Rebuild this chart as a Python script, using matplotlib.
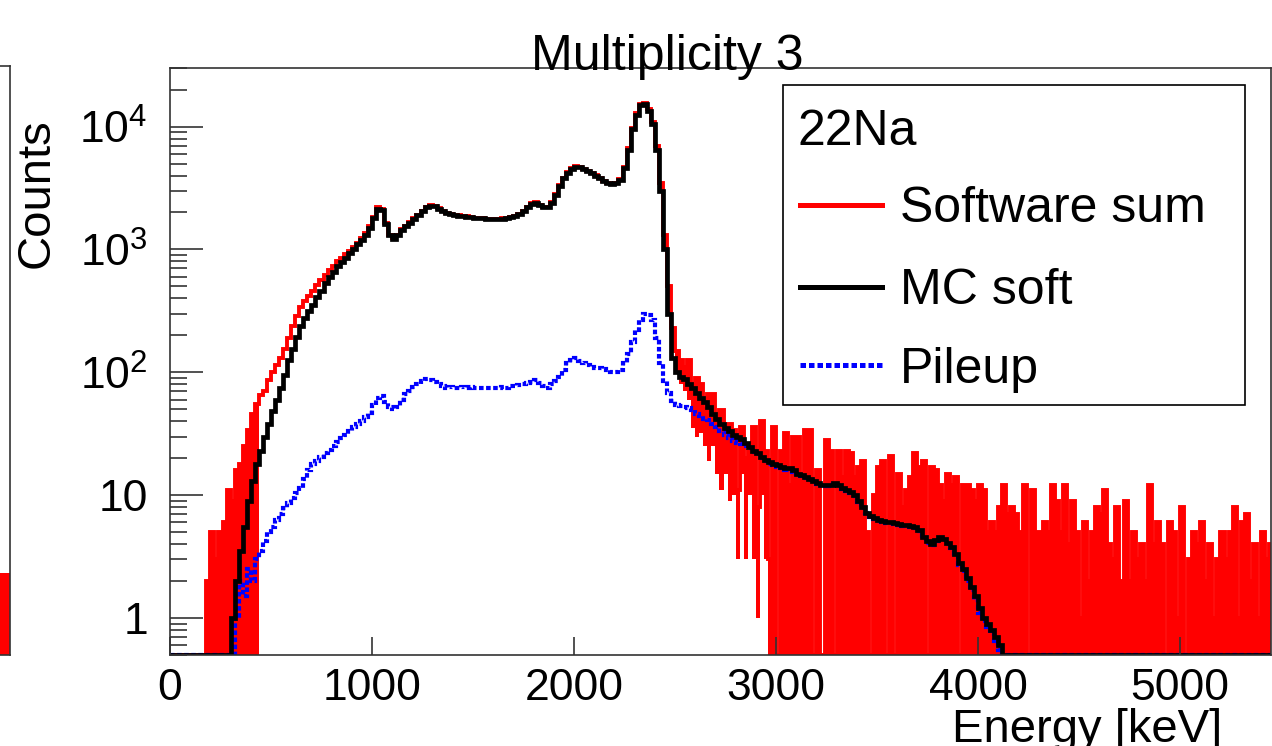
import numpy as np
import matplotlib
matplotlib.use("Agg")
import matplotlib.pyplot as plt
from matplotlib.patches import Rectangle
from matplotlib.lines import Line2D
from matplotlib.ticker import NullFormatter, NullLocator, LogLocator

plt.rcParams['font.family'] = ['Liberation Sans', 'DejaVu Sans']
plt.rcParams['mathtext.fontset'] = 'custom'
plt.rcParams['mathtext.rm'] = 'Liberation Sans'
plt.rcParams['mathtext.it'] = 'Liberation Sans:italic'

# 20 keV bins, 0 .. 5460 keV
bin_width = 20
n_bins = 273

# Software sum (red), counts per bin
software_sum = [
    0, 0, 0, 0, 0, 0, 0, 0, 0, 2,
    5, 3, 5, 6, 11, 9, 16, 18, 25, 34,
    46, 55, 65, 70, 86, 100, 115, 130, 155, 190,
    240, 290, 340, 380, 420, 460, 510, 560, 620, 680,
    740, 810, 860, 920, 980, 1050, 1130, 1230, 1350, 1550,
    1850, 2200, 2150, 1650, 1320, 1230, 1310, 1470, 1560, 1670,
    1790, 1920, 2060, 2210, 2290, 2260, 2170, 2060, 1990, 1950,
    1920, 1900, 1880, 1860, 1840, 1820, 1810, 1800, 1780, 1770,
    1770, 1780, 1790, 1810, 1840, 1880, 1950, 2070, 2220, 2380,
    2430, 2310, 2230, 2210, 2420, 2830, 3330, 3850, 4250, 4600,
    4750, 4700, 4540, 4380, 4230, 4030, 3830, 3630, 3480, 3420,
    3480, 3750, 4700, 6700, 9800, 12800, 15300, 15600, 13800, 10900,
    7000, 3500, 1300, 500, 230, 150, 125, 110, 125, 80,
    90, 81, 50, 67, 67, 46, 49, 30, 38, 34,
    11, 36, 20, 23, 36, 8, 40, 23, 3, 36,
    0, 23, 32, 12, 30, 30, 14, 34, 34, 0,
    16, 0, 28, 23, 0, 23, 14, 23, 22, 14,
    17, 19, 5, 0, 10, 17, 19, 0, 21, 0,
    15, 8, 11, 14, 22, 17, 19, 0, 17, 16,
    12, 9, 15, 12, 14, 0, 12, 12, 11, 9,
    12, 11, 5, 6, 5, 8, 12, 7, 8, 7,
    5, 12, 0, 11, 5, 5, 6, 5, 12, 9,
    5, 12, 4, 9, 5, 1, 6, 2, 5, 8,
    7, 11, 4, 3, 8, 2, 9, 2, 5, 3,
    4, 2, 12, 4, 6, 4, 0, 6, 5, 1,
    8, 0, 3, 5, 4, 6, 2, 4, 1, 3,
    5, 3, 5, 8, 1, 6, 7, 2, 4, 1,
    5, 3, 4,
]

# lower edge of the fluctuation band of the red spectrum, 2460 .. 2940 keV
software_sum_low = [300, 150, 100, 80, 70, 60, 35, 30, 32, 25,
                    19, 25, 15, 11, 15, 9, 10, 3, 15, 3,
                    10, 3, 1, 10, 3]

# MC soft (black)
mc_soft = [
    0, 0, 0, 0, 0, 0, 0, 0, 0, 0,
    0, 0, 0, 0, 0, 1.0, 2.0, 3.5, 5.5, 9,
    13, 18, 23, 30, 38, 48, 60, 75, 95, 125,
    155, 195, 240, 275, 315, 355, 410, 460, 530, 600,
    660, 730, 790, 860, 930, 1010, 1100, 1200, 1320, 1500,
    1800, 2150, 2100, 1600, 1300, 1220, 1300, 1450, 1550, 1650,
    1780, 1900, 2050, 2200, 2270, 2250, 2150, 2050, 1980, 1940,
    1910, 1890, 1870, 1850, 1830, 1810, 1800, 1790, 1770, 1760,
    1760, 1770, 1780, 1800, 1830, 1870, 1930, 2050, 2200, 2350,
    2400, 2300, 2220, 2200, 2400, 2800, 3300, 3800, 4200, 4550,
    4700, 4650, 4500, 4350, 4200, 4000, 3800, 3600, 3450, 3400,
    3450, 3700, 4600, 6500, 9500, 12500, 15000, 15300, 13500, 10500,
    6500, 3000, 1000, 300, 130, 100, 92, 88, 80, 74,
    68, 62, 57, 52, 46, 42, 38, 35, 33, 31,
    30, 28.5, 26.5, 24.5, 23, 22, 20.5, 19.5, 18.5, 18,
    17.5, 17, 16.5, 16.5, 16, 15, 14.5, 14, 13.5, 13,
    12.5, 12.2, 12.0, 12.2, 12.5, 12.2, 11.5, 11.0, 10.6, 10.0,
    9.0, 8.0, 7.2, 6.8, 6.5, 6.3, 6.2, 6.0, 6.0, 5.9,
    5.8, 5.7, 5.7, 5.6, 5.5, 5.2, 4.6, 4.2, 4.0, 4.3,
    4.6, 4.4, 4.1, 3.8, 3.3, 2.8, 2.5, 2.1, 1.8, 1.5,
    1.2, 1.0, 0.9, 0.8, 0.7, 0.6, 0, 0, 0, 0,
    0, 0, 0, 0, 0, 0, 0, 0, 0, 0,
    0, 0, 0, 0, 0, 0, 0, 0, 0, 0,
    0, 0, 0, 0, 0, 0, 0, 0, 0, 0,
    0, 0, 0, 0, 0, 0, 0, 0, 0, 0,
    0, 0, 0, 0, 0, 0, 0, 0, 0, 0,
    0, 0, 0, 0, 0, 0, 0, 0, 0, 0,
    0, 0, 0,
]

# Pileup (blue)
pileup = [
    0, 0, 0, 0, 0, 0, 0, 0, 0, 0,
    0, 0, 0, 0, 0, 0, 1, 2, 1.5, 2.5,
    2, 3, 3.5, 4.2, 5, 5.5, 6.3, 7, 7.8, 8.6,
    9.5, 10.5, 11.5, 13.5, 16, 18, 19, 20.5, 22, 23.5,
    25, 27, 29, 31, 33.5, 36, 38, 40, 43, 47,
    54, 62, 64, 57, 52, 50, 52, 60, 66, 71,
    76, 81, 85, 88, 86, 83, 80, 77, 75, 76,
    75, 74, 76, 75, 76, 75, 74, 75, 74, 75,
    74, 75, 76, 75, 77, 78, 79, 81, 82, 84,
    86, 82, 77, 75, 80, 85, 92, 105, 118, 126,
    130, 124, 118, 114, 111, 109, 108, 106, 104, 101,
    100, 104, 118, 140, 175, 220, 265, 300, 295, 265,
    190, 120, 85, 68, 58, 54, 53, 52, 51, 49,
    46, 44, 42, 41, 38, 36, 33, 31, 29, 27.5,
    26.5, 26, 25, 24, 22.5, 21.5, 20, 19, 18, 17.5,
    17, 16.5, 16, 16, 15.5, 14.8, 14.2, 13.8, 13.2, 12.8,
    12.3, 12, 11.8, 12, 12.3, 12, 11.3, 10.8, 10.4, 9.8,
    8.8, 7.9, 7.1, 6.7, 6.4, 6.2, 6.1, 5.9, 5.9, 5.8,
    5.7, 5.6, 5.6, 5.5, 5.4, 5.1, 4.5, 4.1, 3.9, 4.2,
    4.5, 4.3, 4.0, 3.7, 3.2, 2.7, 2.4, 2.0, 1.7, 1.4,
    1.1, 0.95, 0.85, 0.75, 0.65, 0.55, 0, 0, 0, 0,
    0, 0, 0, 0, 0, 0, 0, 0, 0, 0,
    0, 0, 0, 0, 0, 0, 0, 0, 0, 0,
    0, 0, 0, 0, 0, 0, 0, 0, 0, 0,
    0, 0, 0, 0, 0, 0, 0, 0, 0, 0,
    0, 0, 0, 0, 0, 0, 0, 0, 0, 0,
    0, 0, 0, 0, 0, 0, 0, 0, 0, 0,
    0, 0, 0,
]

# the neighbouring pad, only its last bin is visible
side_panel_counts = [2.3]

x_ticks = [0, 1000, 2000, 3000, 4000, 5000]
y_ticks = [1, 10, 100, 1000, 10000]
y_tick_labels = ["1", "10", r"$10^{2}$", r"$10^{3}$", r"$10^{4}$"]

floor = 0.5
edges = np.arange(n_bins + 1) * bin_width
red = np.array(software_sum, dtype=float)
black = np.array(mc_soft, dtype=float)
blue = np.array(pileup, dtype=float)
dotted = (0, (1.1, 0.6))

W, H = 1272, 746
fig = plt.figure(figsize=(W / 100, H / 100), dpi=100)

# cut-off neighbouring pad on the far left
ax0 = fig.add_axes([-20 / W, 91 / H, 30 / W, 589 / H])
ax0.set_yscale("log")
ax0.set_ylim(floor, 3e4)
ax0.set_xlim(0, 3)
ax0.stairs(side_panel_counts, [2, 3], baseline=floor, fill=True, color="red")
ax0.set_xticks([])
ax0.set_yticks([])
ax0.yaxis.set_minor_locator(NullLocator())
for s in ax0.spines.values():
    s.set_color("#333333")
    s.set_linewidth(1.2)

ax = fig.add_axes([170 / W, 91 / H, 1101 / W, 587 / H])
ax.set_yscale("log")
ax.set_xlim(0, 5450)
ax.set_ylim(floor, 3e4)

# red: band fills where statistics are poor, plus the outline
ax.stairs(np.maximum(red[9:22], floor), edges[9:23], baseline=floor,
          fill=True, color="red", lw=0)
ax.stairs(red[123:148], edges[123:149], baseline=np.array(software_sum_low),
          fill=True, color="red", lw=0)
ax.stairs(np.maximum(red[148:], floor), edges[148:], baseline=floor,
          fill=True, color="red", lw=0)
ax.stairs(np.maximum(red, floor), edges, baseline=None, color="red", lw=2.8)

ax.stairs(np.maximum(blue, floor), edges, baseline=None, color="blue",
          lw=3.0, linestyle=dotted)
ax.stairs(np.maximum(black, floor), edges, baseline=None, color="black", lw=3.4)

ax.set_xticks(x_ticks)
ax.set_xticklabels([str(t) for t in x_ticks])
ax.xaxis.set_minor_locator(NullLocator())
ax.set_yticks(y_ticks)
ax.set_yticklabels(y_tick_labels)
ax.yaxis.set_minor_locator(LogLocator(base=10, subs=np.arange(2, 10)))
ax.yaxis.set_minor_formatter(NullFormatter())
ax.tick_params(axis="x", which="major", direction="in", length=13, width=1.2,
               color="#333333", labelsize=32, pad=9)
ax.tick_params(axis="y", which="major", direction="in", length=24, width=1.2,
               color="#333333", labelsize=32, pad=16)
ax.tick_params(axis="y", which="minor", direction="in", length=12, width=1.2,
               color="#333333")
for s in ax.spines.values():
    s.set_color("#333333")
    s.set_linewidth(1.2)

fig.text(667 / W, 1 - 70 / H, "Multiplicity 3", ha="center", va="baseline",
         fontsize=36)
fig.text(37 / W, 1 - 193 / H, "Counts", rotation=90, ha="center",
         va="center", fontsize=34)
fig.text(1222 / W, 1 - 742 / H, "Energy [keV]", ha="right", va="baseline",
         fontsize=34)

# legend box
fig.add_artist(Rectangle((783 / W, 1 - 405 / H), 462 / W, 320 / H,
                         transform=fig.transFigure, fill=False,
                         ec="black", lw=1.2))
fig.text(797 / W, 1 - 145 / H, "22Na", ha="left", va="baseline", fontsize=36)
entries = [("Software sum", "red", "-", 205, 222),
           ("MC soft", "black", "-", 287, 304),
           ("Pileup", "blue", dotted, 365, 383)]
for label, col, ls, yl, yb in entries:
    fig.add_artist(Line2D([800 / W, 882 / W], [1 - yl / H, 1 - yl / H],
                          transform=fig.transFigure, color=col, lw=3.6,
                          linestyle=ls))
    fig.text(900 / W, 1 - yb / H, label, ha="left", va="baseline",
             fontsize=36)

fig.savefig("out.png", dpi=100)
